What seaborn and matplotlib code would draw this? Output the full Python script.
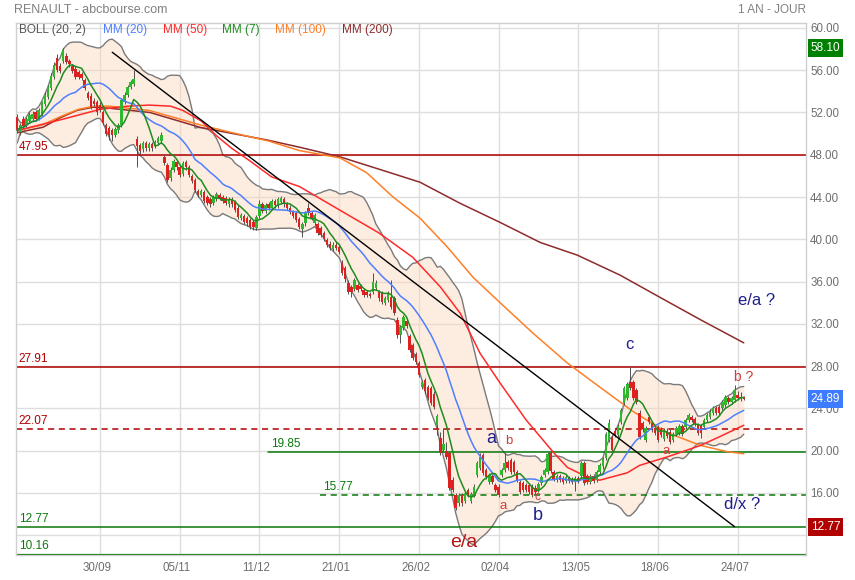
import matplotlib
matplotlib.use('Agg')
import matplotlib.pyplot as plt
import matplotlib.transforms as mtransforms
import seaborn as sns
import numpy as np
import pandas as pd

# daily candles (one per trading day, left to right)
opens = [51.6, 50.2, 51.4, 50.8, 51.2, 51.4, 52.0, 51.5, 51.9, 52.8,
         53.5, 54.3, 55.4, 57.2, 56.4, 56.9, 57.3, 56.9, 56.4, 56.1,
         55.8, 55.6, 55.1, 53.8, 53.6, 53.1, 53.0, 52.7, 52.0, 50.8,
         50.5, 50.3, 49.9, 50.3, 50.8, 53.0, 53.7, 54.4, 54.7, 49.5,
         48.9, 48.5, 49.1, 48.6, 49.0, 48.8, 49.1, 49.3, 47.8, 47.0,
         45.8, 46.6, 47.3, 46.8, 46.2, 47.3, 46.8, 46.0, 45.6, 44.6,
         44.2, 44.5, 44.0, 43.8, 43.4, 43.8, 44.2, 44.0, 43.9, 43.3,
         43.8, 43.5, 43.0, 42.0, 42.2, 42.0, 41.8, 41.6, 41.1, 42.2,
         43.3, 42.7, 43.3, 43.0, 43.6, 43.2, 43.5, 43.8, 43.3, 43.0,
         42.6, 42.5, 41.9, 41.0, 41.5, 43.0, 42.5, 41.5, 41.4, 41.1,
         40.6, 39.9, 39.6, 39.1, 39.5, 39.3, 37.8, 37.3, 35.9, 35.5,
         35.3, 35.7, 35.6, 35.2, 35.0, 34.8, 35.0, 35.4, 35.0, 34.9,
         34.0, 34.3, 34.5, 34.4, 32.4, 30.9, 31.6, 32.3, 30.8, 30.0,
         29.1, 28.3, 26.0, 26.7, 26.0, 25.9, 25.4, 22.4, 21.2, 20.1,
         20.0, 19.8, 17.2, 15.8, 15.0, 15.8, 15.2, 16.3, 15.2, 15.8,
         17.7, 18.4, 19.6, 18.2, 17.0, 17.6, 16.7, 16.6, 17.7, 18.2,
         18.9, 19.1, 18.9, 18.0, 17.0, 16.9, 16.7, 16.7, 16.6, 16.5,
         16.3, 16.9, 17.7, 18.0, 19.8, 18.0, 17.2, 17.6, 17.4, 17.1,
         17.4, 17.3, 17.0, 17.4, 17.6, 18.8, 17.6, 17.0, 17.6, 17.2,
         18.0, 18.5, 19.3, 21.0, 21.3, 21.9, 21.5, 22.7, 24.5, 25.0,
         26.5, 26.5, 25.7, 23.6, 22.6, 21.0, 23.2, 22.6, 22.1, 22.2,
         22.0, 21.1, 21.9, 21.8, 21.0, 21.6, 21.7, 22.3, 22.2, 22.9,
         23.2, 23.0, 22.4, 22.3, 22.2, 22.9, 23.2, 23.6, 24.0, 24.1,
         24.0, 24.3, 25.0, 24.6, 24.8, 25.3, 25.1, 25.1]
highs = [51.9, 51.0, 51.7, 51.6, 52.0, 52.1, 52.2, 52.4, 53.1, 53.9,
         54.6, 55.7, 56.8, 57.5, 56.7, 58.1, 57.6, 57.1, 56.6, 56.4,
         56.0, 55.8, 55.3, 54.0, 53.8, 53.4, 53.2, 53.0, 52.2, 51.0,
         50.7, 50.5, 50.6, 51.0, 53.4, 53.9, 54.6, 55.1, 56.0, 49.8,
         49.1, 49.3, 49.3, 49.2, 49.2, 49.4, 49.8, 50.2, 48.0, 47.2,
         46.8, 47.6, 47.5, 47.0, 47.4, 47.5, 47.0, 46.2, 45.8, 44.8,
         44.8, 44.7, 44.2, 44.0, 44.2, 44.5, 44.4, 44.2, 44.1, 44.0,
         44.0, 43.7, 43.2, 42.5, 42.4, 42.2, 42.0, 41.8, 42.3, 43.7,
         43.5, 43.4, 43.5, 43.8, 43.8, 44.0, 44.1, 44.0, 43.5, 43.2,
         42.8, 42.7, 42.1, 41.6, 42.7, 43.4, 42.7, 42.5, 41.6, 41.3,
         40.8, 40.1, 39.8, 39.7, 39.7, 39.5, 38.0, 37.5, 36.1, 35.7,
         36.3, 35.9, 35.8, 35.4, 35.2, 35.0, 36.8, 36.1, 35.2, 35.1,
         34.6, 35.1, 36.1, 34.6, 32.6, 31.9, 32.8, 32.5, 31.0, 30.2,
         29.3, 28.5, 26.7, 26.9, 26.2, 26.1, 25.6, 23.5, 21.8, 22.1,
         20.8, 20.0, 17.5, 16.0, 16.0, 16.0, 16.2, 16.5, 16.1, 16.8,
         19.0, 19.8, 19.8, 18.4, 17.9, 17.8, 16.9, 16.8, 18.4, 19.8,
         19.1, 19.3, 19.1, 18.2, 17.2, 17.1, 16.9, 16.9, 16.8, 16.7,
         17.0, 17.7, 18.4, 19.9, 20.0, 18.2, 17.8, 17.8, 17.6, 17.7,
         17.6, 17.5, 17.6, 17.6, 19.0, 19.0, 17.8, 17.8, 17.8, 18.2,
         18.8, 19.4, 21.8, 23.0, 21.5, 22.1, 22.5, 24.0, 26.1, 26.5,
         27.9, 26.7, 25.9, 23.8, 22.8, 22.3, 23.4, 22.8, 22.3, 22.4,
         22.2, 22.1, 22.1, 22.0, 21.8, 22.3, 22.5, 22.5, 23.1, 23.6,
         23.4, 23.2, 22.6, 22.5, 23.1, 23.6, 23.9, 24.2, 24.2, 24.3,
         24.8, 25.3, 25.2, 25.2, 26.2, 25.6, 25.5, 25.2]
lows = [50.1, 49.9, 50.5, 50.6, 51.0, 51.2, 51.2, 51.3, 51.7, 52.6,
        53.3, 54.1, 55.2, 55.8, 55.7, 56.7, 56.6, 56.3, 55.7, 55.2,
        55.2, 55.1, 54.1, 53.2, 52.3, 52.6, 51.8, 52.0, 50.8, 49.8,
        49.4, 49.3, 49.7, 50.1, 50.6, 52.8, 53.5, 54.2, 54.5, 46.8,
        48.1, 48.3, 48.4, 48.4, 48.4, 48.6, 48.9, 49.1, 47.0, 45.4,
        45.5, 46.4, 46.6, 45.9, 46.0, 46.6, 45.9, 45.3, 44.5, 44.0,
        44.0, 43.4, 43.2, 43.1, 43.2, 43.6, 43.7, 43.4, 43.2, 43.1,
        43.1, 42.6, 41.9, 41.8, 41.4, 41.3, 41.0, 40.9, 40.9, 42.0,
        42.5, 42.5, 42.8, 42.8, 43.0, 43.0, 43.3, 43.1, 42.8, 42.4,
        42.0, 41.6, 41.0, 40.2, 41.3, 42.3, 41.8, 41.3, 40.4, 40.2,
        39.8, 39.3, 39.0, 38.9, 39.0, 38.6, 36.6, 36.0, 34.8, 34.5,
        35.1, 35.0, 35.1, 34.5, 34.5, 34.4, 34.8, 35.2, 34.2, 33.9,
        33.8, 34.1, 33.4, 32.8, 30.7, 30.2, 31.4, 31.6, 29.3, 28.6,
        28.2, 27.0, 25.8, 25.4, 24.8, 24.3, 23.9, 21.5, 19.6, 19.9,
        19.2, 16.3, 16.1, 14.4, 14.8, 14.8, 15.0, 15.6, 15.0, 15.6,
        17.5, 18.2, 17.7, 17.3, 16.8, 16.8, 16.1, 15.6, 17.5, 18.0,
        18.2, 17.8, 17.8, 17.0, 15.9, 16.1, 16.1, 15.9, 15.6, 15.9,
        16.1, 16.7, 17.5, 17.8, 17.9, 17.1, 17.0, 17.0, 16.8, 16.9,
        16.9, 16.8, 16.2, 16.9, 17.4, 16.7, 16.8, 16.8, 16.9, 17.0,
        17.8, 18.3, 19.1, 20.8, 19.9, 21.3, 21.3, 22.5, 24.3, 24.8,
        25.7, 24.8, 24.4, 21.1, 21.8, 20.8, 22.5, 21.8, 21.5, 20.8,
        21.3, 20.9, 21.2, 20.6, 20.8, 21.4, 21.5, 21.4, 22.0, 22.7,
        22.7, 22.3, 21.5, 21.2, 22.0, 22.7, 23.0, 23.4, 23.4, 23.4,
        23.8, 24.1, 24.4, 24.4, 24.6, 24.8, 24.7, 24.8]
closes = [50.3, 50.8, 50.7, 51.4, 51.8, 51.9, 51.4, 52.2, 53.0, 53.7,
          54.4, 55.5, 56.5, 56.0, 55.9, 57.9, 56.8, 56.6, 55.9, 55.4,
          55.4, 55.3, 54.3, 53.4, 52.5, 52.8, 52.0, 52.2, 51.0, 50.0,
          49.9, 49.9, 50.4, 50.8, 53.2, 53.7, 54.4, 54.9, 55.2, 48.8,
          48.4, 49.1, 48.6, 49.0, 48.6, 49.2, 49.6, 49.9, 47.2, 45.6,
          46.6, 47.4, 46.8, 46.1, 47.2, 46.8, 46.1, 45.5, 44.7, 44.2,
          44.6, 43.6, 43.4, 43.3, 44.0, 44.3, 43.9, 43.6, 43.4, 43.8,
          43.3, 42.8, 42.1, 42.3, 41.6, 41.5, 41.2, 41.2, 42.1, 43.3,
          42.7, 43.2, 43.0, 43.6, 43.2, 43.8, 43.9, 43.3, 43.0, 42.6,
          42.2, 41.8, 41.2, 41.4, 42.5, 42.5, 42.0, 42.3, 40.6, 40.4,
          40.0, 39.5, 39.2, 39.5, 39.2, 38.8, 36.8, 36.2, 35.0, 35.0,
          36.1, 35.2, 35.3, 34.7, 34.7, 34.6, 36.0, 35.9, 34.4, 34.1,
          34.4, 34.9, 33.6, 33.0, 30.9, 31.7, 32.6, 31.8, 29.5, 28.8,
          28.4, 27.2, 26.5, 25.6, 25.0, 24.5, 24.1, 23.3, 19.8, 20.6,
          19.4, 16.5, 16.3, 14.6, 15.8, 15.0, 16.0, 15.8, 15.9, 16.6,
          18.8, 19.4, 17.9, 17.5, 17.7, 17.0, 16.3, 15.8, 18.2, 18.8,
          18.4, 18.0, 18.0, 17.2, 16.1, 16.3, 16.3, 16.1, 15.8, 16.1,
          16.8, 17.5, 18.2, 19.7, 18.1, 17.3, 17.6, 17.2, 17.0, 17.5,
          17.1, 17.0, 17.4, 17.1, 18.8, 16.9, 17.0, 17.6, 17.1, 18.0,
          18.6, 19.2, 21.6, 22.6, 20.1, 21.5, 22.3, 23.8, 25.9, 26.3,
          25.9, 25.0, 24.6, 21.3, 22.0, 22.1, 22.7, 22.0, 21.7, 21.0,
          21.5, 21.9, 21.4, 20.8, 21.6, 22.1, 22.3, 21.6, 22.9, 23.4,
          22.9, 22.5, 21.7, 21.7, 22.9, 23.4, 23.7, 24.0, 23.6, 23.6,
          24.6, 25.1, 24.6, 25.0, 25.7, 25.0, 25.0, 24.89]

# long moving averages (bar index, value)
mm50_idx = [0, 14, 27, 36, 43, 50, 54, 60, 65, 70, 76, 83, 92, 105, 118, 129,
            138, 144.5, 151, 157.5, 166, 175, 179.5, 186, 190, 199, 203, 212, 223, 229, 237]
mm50_val = [50.3, 51.3, 52.3, 52.6, 52.7, 52.6, 52.2, 51.2, 49.8, 48.6, 47.4, 45.9, 45.0, 42.8, 40.6, 38.3,
            35.5, 33.0, 29.2, 26.4, 22.9, 19.8, 18.4, 17.5, 17.2, 17.9, 18.6, 19.4, 20.5, 21.3, 22.4]
mm100_idx = [0, 8, 14, 20, 25, 30, 43, 60, 70, 82, 92, 105.3, 114, 122.6, 131.4, 140.2,
             148.7, 157.5, 168.3, 179.4, 190.1, 200.9, 212, 222.8, 231.6, 237]
mm100_val = [50.3, 50.8, 51.6, 52.3, 52.6, 52.6, 52.2, 50.8, 50.1, 49.3, 48.4, 47.7, 46.3, 44.0, 42.0, 39.3,
             36.4, 34.0, 31.1, 28.3, 26.0, 23.7, 21.7, 20.5, 19.9, 19.7]
mm200_idx = [0, 8.4, 14, 19.5, 24.7, 30.3, 43.3, 59.6, 70.4, 81.5, 92.3, 105.3, 118.4, 131.4,
             144.5, 157.5, 170.6, 182.7, 196.7, 209.7, 222.8, 237]
mm200_val = [50.1, 50.6, 51.5, 52.2, 52.5, 52.4, 52.0, 50.6, 50.0, 49.4, 48.7, 47.8, 46.6, 45.4,
             43.4, 41.6, 39.7, 38.5, 36.6, 34.5, 32.4, 30.2]

tick_idx = [27, 53, 79, 105, 131, 157, 183, 209, 235]
tick_labels = ['30/09', '05/11', '11/12', '21/01', '26/02', '02/04', '13/05', '18/06', '24/07']

# support / resistance levels: value, start bar, colour, style
levels = [(47.95, None, '#B00000', '-'), (27.91, None, '#B00000', '-'),
          (22.07, None, '#B00000', '--'), (19.85, 81.8, '#0A780A', '-'),
          (15.77, 98.8, '#0A780A', '--'), (12.77, None, '#0A780A', '-'),
          (10.16, None, '#0A780A', '-')]
trend_idx = [31, 234]
trend_val = [57.7, 12.8]

# wave labels: text, bar, price, colour, size
waves = [('e/a', 145.8, 11.3, '#B81414', 14), ('a', 154.6, 21.1, '#1F1F8A', 13),
         ('b', 160.2, 20.9, '#D23C3C', 9.5), ('a', 158.5, 14.8, '#D23C3C', 9.5),
         ('c', 169.6, 15.6, '#D23C3C', 8.5), ('b', 169.9, 13.9, '#1F1F8A', 13),
         ('c', 199.6, 30.0, '#1F1F8A', 12), ('a', 211.7, 20.0, '#D23C3C', 9.5),
         ('b ?', 236.9, 27.0, '#D23C3C', 10), ('e/a ?', 241.3, 34.2, '#1F1F8A', 12),
         ('d/x ?', 236.6, 14.9, '#1F1F8A', 12)]

df = pd.DataFrame({'open': opens, 'high': highs, 'low': lows, 'close': closes})
df['idx'] = np.arange(len(df))
df['mm7'] = df['close'].rolling(7, min_periods=1).mean()
df['mm20'] = df['close'].rolling(20, min_periods=1).mean()
sd = df['close'].rolling(20, min_periods=2).std(ddof=0).fillna(0.6)
df['up'] = df['mm20'] + 2 * sd
df['dn'] = df['mm20'] - 2 * sd

sns.set_style('white')
plt.rcParams['font.family'] = ['Liberation Sans', 'DejaVu Sans']

fig = plt.figure(figsize=(8.55, 5.8), dpi=100)
ax = fig.add_axes([16 / 855, 25 / 580, 790 / 855, 532 / 580])
ax.set_xlim(-0.4, 257.3)
ax.set_ylim(10.12, 60.47)

# grid
for y in np.arange(12, 61, 4):
    ax.axhline(y, color='#DEDEDE', lw=1, zorder=0)
for x in tick_idx:
    ax.axvline(x, color='#DEDEDE', lw=1, zorder=0)

# bollinger band
ax.fill_between(df['idx'], df['dn'], df['up'], color='#FBD5BC', alpha=0.45, lw=0, zorder=1)
sns.lineplot(x=df['idx'], y=df['up'], ax=ax, color='#7A7A7A', lw=1, zorder=2)
sns.lineplot(x=df['idx'], y=df['dn'], ax=ax, color='#7A7A7A', lw=1, zorder=2)

# levels
for val, start, col, ls in levels:
    x0 = ax.get_xlim()[0] if start is None else start
    lw = 1.6 if val == 10.16 else 1.1
    ax.plot([x0, ax.get_xlim()[1]], [val, val], color=col, ls=ls, lw=lw, zorder=2,
            dashes=(4, 3) if ls == '--' else (None, None))
    ax.annotate(f'{val:.2f}', xy=(x0, val), xytext=(2, 1.5), textcoords='offset points',
                ha='left', va='bottom', color=col, fontsize=8.5, zorder=6)

# long averages
sns.lineplot(x=mm200_idx, y=mm200_val, ax=ax, color='#8E2B2B', lw=1.1, zorder=2)
sns.lineplot(x=mm100_idx, y=mm100_val, ax=ax, color='#FF7F27', lw=1.1, zorder=2)
sns.lineplot(x=mm50_idx, y=mm50_val, ax=ax, color='#FF2A2A', lw=1.1, zorder=2)

# candles
up = df['close'] >= df['open']
cols = np.where(up, '#2DB82D', '#DD2020')
ax.vlines(df['idx'], df['low'], df['high'], color='#505050', lw=0.7, zorder=3)
body = (df['close'] - df['open']).abs().clip(lower=0.1)
ax.bar(df['idx'], body, bottom=df[['open', 'close']].min(axis=1), width=0.8,
       color=cols, lw=0, zorder=3)

sns.lineplot(x=df['idx'], y=df['mm20'], ax=ax, color='#4F7FFF', lw=1.1, zorder=4)
sns.lineplot(x=df['idx'], y=df['mm7'], ax=ax, color='#1E8C1E', lw=1.1, zorder=4)

ax.plot(trend_idx, trend_val, color='black', lw=1, zorder=5)

for txt, xi, yi, col, fs in waves:
    ax.text(xi, yi, txt, color=col, fontsize=fs, ha='center', va='center', zorder=7)

# axes cosmetics
ax.yaxis.tick_right()
yt = np.arange(12, 61, 4)
ax.set_yticks(yt)
ax.set_yticklabels(['' if v == 12 else f'{v:.2f}' for v in yt])
ax.set_xticks(tick_idx)
ax.set_xticklabels(tick_labels)
ax.tick_params(axis='both', length=0, labelsize=8.3, labelcolor='#6E6E6E')
ax.tick_params(axis='x', pad=5)
ax.tick_params(axis='y', pad=3)
ax.set_xlabel('')
ax.set_ylabel('')
shift = mtransforms.ScaledTranslation(-3 / 100, 0, fig.dpi_scale_trans)
for lbl in ax.get_xticklabels():
    lbl.set_transform(lbl.get_transform() + shift)
for side in ['top', 'right', 'left', 'bottom']:
    ax.spines[side].set_color('#D0D0D0')
    ax.spines[side].set_linewidth(1)

# price boxes on the right axis
for val, col in [(58.10, '#008000'), (24.89, '#3D7BFF'), (12.77, '#B00000')]:
    ax.annotate(f'{val:.2f}', xy=(1, val), xycoords=('axes fraction', 'data'),
                xytext=(3.5, 0), textcoords='offset points', ha='left', va='center',
                color='white', fontsize=8.5, zorder=10, annotation_clip=False,
                bbox=dict(boxstyle='square,pad=0.25', fc=col, ec='none'))

# header and legend
fig.text(14 / 855, 1 - 10 / 580, 'RENAULT - abcbourse.com', color='#808080',
         fontsize=9, va='center', ha='left')
fig.text(806 / 855, 1 - 10 / 580, '1 AN - JOUR', color='#808080',
         fontsize=8.5, va='center', ha='right')
legend = [('BOLL (20, 2)', '#555555', 19), ('MM (20)', '#4F7FFF', 103),
          ('MM (50)', '#FF2A2A', 163), ('MM (7)', '#1E8C1E', 222),
          ('MM (100)', '#FF7F27', 275), ('MM (200)', '#8E2B2B', 342)]
for txt, col, px in legend:
    fig.text(px / 855, 1 - 30 / 580, txt, color=col, fontsize=8.5, va='center', ha='left')

fig.savefig('out.png', dpi=100)
